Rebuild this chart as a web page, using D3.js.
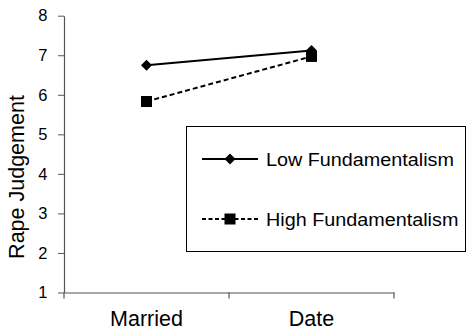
<!DOCTYPE html>
<html><head><meta charset="utf-8">
<script src="https://cdn.jsdelivr.net/npm/d3@7"></script>
<style>body{margin:0;background:#fff}svg{display:block}text{font-family:"Liberation Sans",Arial,sans-serif;fill:#000}</style>
</head><body><svg id="c" width="467" height="331"></svg>
<script>
const categories = ["Married", "Date"];
const seriesNames = ["Low Fundamentalism", "High Fundamentalism"];
const lowValues = [6.75, 7.12];
const highValues = [5.83, 6.97];
const yTicks = [1, 2, 3, 4, 5, 6, 7, 8];

const svg = d3.select("#c");
const x = d3.scaleBand().domain(categories).range([64, 394]);
const y = d3.scaleLinear().domain([1, 8]).range([292.5, 15.7]);
const FONT = "Liberation Sans, Arial, sans-serif";

// y axis
const ya = svg.append("g").attr("transform", "translate(64,0)")
  .call(d3.axisLeft(y).tickValues(yTicks).tickSize(6).tickSizeOuter(0).tickFormat(d3.format("d")));
ya.select(".domain").attr("stroke", "#555").attr("stroke-width", 1.2);
ya.selectAll(".tick line").attr("stroke", "#555");
ya.selectAll(".tick text").attr("font-size", 16.5).attr("x", -16.5).style("font-family", FONT).attr("fill", "#000");

// x axis
const xa = svg.append("g").attr("transform", "translate(0,292.5)")
  .call(d3.axisBottom(x).tickSize(0).tickSizeOuter(0));
xa.select(".domain").attr("stroke", "#555").attr("stroke-width", 1.2);
xa.selectAll(".tick text").attr("font-size", 21.5).attr("y", 33.2).attr("dy", 0).style("font-family", FONT).attr("fill", "#000");
// boundary ticks
const bounds = [x.range()[0], x(categories[1]), x.range()[1]];
svg.append("g").selectAll("line").data(bounds).join("line")
  .attr("x1", d => d).attr("x2", d => d).attr("y1", 292.5).attr("y2", 298.5)
  .attr("stroke", "#555").attr("stroke-width", 1.2);

// y title
svg.append("text").attr("transform", "translate(23.5,177) rotate(-90)")
  .attr("text-anchor", "middle").attr("font-size", 21.5).text("Rape Judgement");

const cx = c => x(c) + x.bandwidth() / 2;
const line = d3.line().x((d, i) => cx(categories[i])).y(d => y(d));

svg.append("path").datum(highValues).attr("d", line).attr("fill", "none")
  .attr("stroke", "#000").attr("stroke-width", 2).attr("stroke-dasharray", "5,3");
svg.append("path").datum(lowValues).attr("d", line).attr("fill", "none")
  .attr("stroke", "#000").attr("stroke-width", 2);

function drawDiamond(g, px, py) {
  g.append("path").attr("d", "M0,-5.5L5.5,0L0,5.5L-5.5,0Z").attr("transform", `translate(${px},${py})`).attr("fill", "#000");
}
function drawSquare(g, px, py) {
  g.append("rect").attr("x", px - 5.5).attr("y", py - 5.5).attr("width", 11).attr("height", 11).attr("fill", "#000");
}
const mk = svg.append("g");
highValues.forEach((v, i) => drawSquare(mk, cx(categories[i]), y(v)));
lowValues.forEach((v, i) => drawDiamond(mk, cx(categories[i]), y(v)));

// legend
const lg = svg.append("g");
lg.append("rect").attr("x", 186.5).attr("y", 126.5).attr("width", 279).attr("height", 125)
  .attr("fill", "#fff").attr("stroke", "#000").attr("stroke-width", 1);
const ly = [159, 219];
lg.append("line").attr("x1", 202).attr("x2", 258).attr("y1", ly[0]).attr("y2", ly[0]).attr("stroke", "#000").attr("stroke-width", 2);
drawDiamond(lg, 230, ly[0]);
lg.append("line").attr("x1", 202).attr("x2", 258).attr("y1", ly[1]).attr("y2", ly[1]).attr("stroke", "#000").attr("stroke-width", 2).attr("stroke-dasharray", "4,2.5");
drawSquare(lg, 230, ly[1]);
seriesNames.forEach((n, i) => {
  lg.append("text").attr("transform", `translate(266,${ly[i]}) scale(1.07,1)`)
    .attr("dy", "0.36em").attr("font-size", 18.5).text(n);
});
</script></body></html>
